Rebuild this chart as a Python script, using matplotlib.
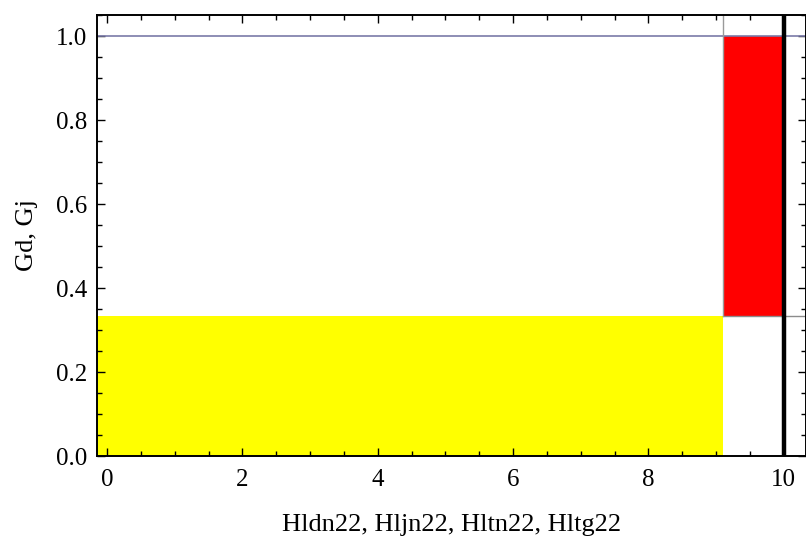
import matplotlib.pyplot as plt
from matplotlib.ticker import MultipleLocator

# Region boundaries
x_split = 9.1
x_end = 10.0
g_low = 1 / 3
g_high = 1.0

x_ticks = [0, 2, 4, 6, 8, 10]
y_ticks = [0.0, 0.2, 0.4, 0.6, 0.8, 1.0]

plt.rcParams['font.family'] = ['Liberation Serif', 'DejaVu Serif']

fig = plt.figure(figsize=(8.06, 5.37), dpi=100)
ax = fig.add_axes([0.1203, 0.1508, 0.8797, 0.8212])

# Filled regions
ax.fill_between([-1, x_split], 0, g_low, color='#ffff00', lw=0, zorder=1)
ax.fill_between([x_split, x_end], g_low, g_high, color='#ff0000', lw=0, zorder=1)

# Reference lines
ax.axhline(g_high, color='#7a7aa8', lw=1.2, zorder=2)
ax.plot([x_split, 10.4], [g_low, g_low], color='#8c8c8c', lw=1.0, zorder=2)
ax.plot([x_split, x_split], [g_low, 1.1], color='#9a9a9a', lw=1.0, zorder=2)
ax.axvline(x_end, color='black', lw=3.2, zorder=3)

ax.set_xlim(-0.15, 10.33)
ax.set_ylim(0, 1.05)

ax.set_xticks(x_ticks)
ax.set_yticks(y_ticks)
ax.set_yticklabels(['%.1f' % v for v in y_ticks])
ax.xaxis.set_minor_locator(MultipleLocator(0.5))
ax.yaxis.set_minor_locator(MultipleLocator(0.05))
ax.tick_params(which='both', direction='in', top=True, right=True,
               labelsize=18, width=1.0)
ax.tick_params(axis='x', pad=9)
ax.tick_params(axis='y', pad=7)
ax.tick_params(which='major', length=6)
ax.tick_params(which='minor', length=3.5)

for s in ax.spines.values():
    s.set_linewidth(1.4)

ax.set_xlabel('Hldn22, Hljn22, Hltn22, Hltg22', fontsize=19, labelpad=17)
ax.set_ylabel('Gd, Gj', fontsize=19, labelpad=13)

fig.savefig('out.png', dpi=100)
